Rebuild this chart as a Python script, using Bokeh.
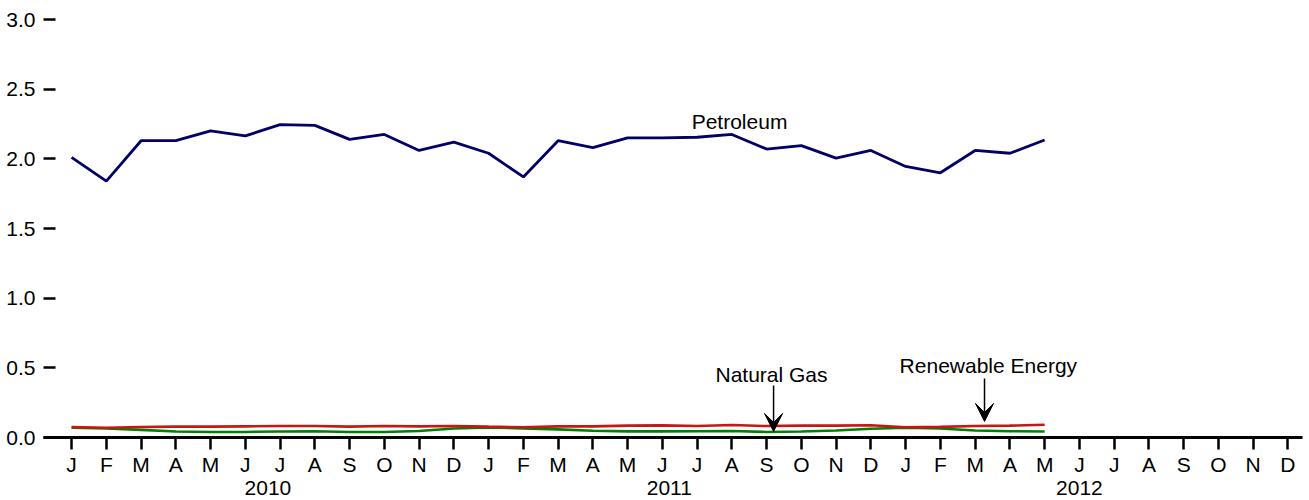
from bokeh.plotting import figure
from bokeh.models import Range1d, FixedTicker, Label, Arrow, VeeHead, LinearAxis
from bokeh.embed import file_html
from bokeh.resources import INLINE

# ---- data ----
month_letters = ["J", "F", "M", "A", "M", "J", "J", "A", "S", "O", "N", "D"] * 3
years = ["2010", "2011", "2012"]
petroleum = [2.01, 1.84, 2.13, 2.13, 2.20, 2.165, 2.245, 2.24, 2.14, 2.175, 2.06, 2.12,
             2.04, 1.87, 2.13, 2.08, 2.15, 2.15, 2.155, 2.175, 2.07, 2.095, 2.005, 2.06,
             1.945, 1.90, 2.06, 2.04, 2.135]
natural_gas = [0.07, 0.065, 0.055, 0.043, 0.04, 0.04, 0.043, 0.045, 0.04, 0.04, 0.047, 0.065,
               0.072, 0.065, 0.058, 0.048, 0.044, 0.044, 0.045, 0.047, 0.04, 0.043, 0.05, 0.063,
               0.07, 0.065, 0.05, 0.045, 0.043]
renewable = [0.075, 0.07, 0.075, 0.078, 0.078, 0.08, 0.082, 0.082, 0.078, 0.082, 0.08, 0.083,
             0.078, 0.074, 0.08, 0.08, 0.085, 0.087, 0.083, 0.09, 0.082, 0.085, 0.085, 0.088,
             0.074, 0.076, 0.083, 0.085, 0.092]
y_ticks = [0.0, 0.5, 1.0, 1.5, 2.0, 2.5, 3.0]
year_positions = [5.65, 17.2, 29.0]

idx = list(range(len(petroleum)))
FONT = "Liberation Sans"
FS = "21px"

p = figure(width=1304, height=500, output_backend="svg", toolbar_location=None,
           x_range=Range1d(-0.808, 35.42), y_range=Range1d(0, 3.0),
           min_border_left=43, min_border_right=2, min_border_top=19, min_border_bottom=63)
p.outline_line_color = None
p.xgrid.visible = False
p.ygrid.visible = False
p.background_fill_color = "white"

# x axis (months)
xa = p.xaxis[0]
xa.ticker = FixedTicker(ticks=list(range(36)))
xa.major_label_overrides = {i: month_letters[i] for i in range(36)}
xa.axis_line_width = 3
xa.axis_line_color = "black"
xa.major_tick_line_width = 2.5
xa.major_tick_out = 12
xa.major_tick_in = 0
xa.minor_tick_line_color = None
xa.major_label_standoff = 3
xa.major_label_text_font = FONT
xa.major_label_text_font_size = FS
xa.major_label_text_color = "black"

# second x axis (years)
ya2 = LinearAxis(ticker=FixedTicker(ticks=year_positions),
                 major_label_overrides={pos: yr for pos, yr in zip(year_positions, years)},
                 axis_line_color=None, major_tick_line_color=None,
                 minor_tick_line_color=None, major_tick_out=0, major_tick_in=0,
                 major_label_standoff=2, major_label_text_font=FONT,
                 major_label_text_font_size=FS, major_label_text_color="black")
p.add_layout(ya2, "below")

# y axis
ya = p.yaxis[0]
ya.ticker = FixedTicker(ticks=y_ticks)
ya.major_label_overrides = {t: f"{t:.1f}" for t in y_ticks}
ya.axis_line_color = None
ya.major_tick_line_width = 2.5
ya.major_tick_in = 12
ya.major_tick_out = 0
ya.minor_tick_line_color = None
ya.major_label_standoff = 8
ya.major_label_text_font = FONT
ya.major_label_text_font_size = FS
ya.major_label_text_color = "black"

# lines
p.line(idx, natural_gas, line_color="#008000", line_width=2.6)
p.line(idx, renewable, line_color="#cc1414", line_width=2.6)
p.line(idx, petroleum, line_color="#000066", line_width=2.8)

# annotations
p.add_layout(Label(x=19.22, y=2.267, text="Petroleum", text_align="center",
                   text_baseline="alphabetic", text_font=FONT, text_font_size=FS,
                   text_color="black"))
p.add_layout(Label(x=20.14, y=0.452, text="Natural Gas", text_align="center",
                   text_baseline="alphabetic", text_font=FONT, text_font_size=FS,
                   text_color="black"))
p.add_layout(Label(x=26.38, y=0.517, text="Renewable Energy", text_align="center",
                   text_baseline="alphabetic", text_font=FONT, text_font_size=FS,
                   text_color="black"))
p.add_layout(Arrow(x_start=20.2, y_start=0.373, x_end=20.2, y_end=0.043,
                   line_width=1.5, line_color="black",
                   end=VeeHead(size=18, fill_color="black", line_color="black")))
p.add_layout(Arrow(x_start=26.27, y_start=0.423, x_end=26.27, y_end=0.115,
                   line_width=1.5, line_color="black",
                   end=VeeHead(size=18, fill_color="black", line_color="black")))

open("out.html", "w").write(file_html(p, INLINE))
